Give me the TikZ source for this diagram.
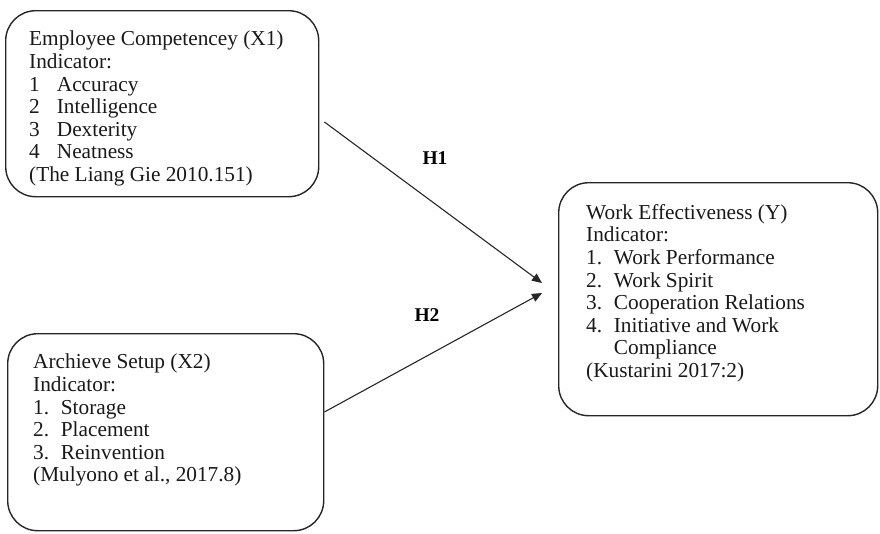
\documentclass[tikz,border=0pt]{standalone}
\usepackage{fontspec}
\setmainfont{Liberation Serif}
\usetikzlibrary{arrows.meta,calc}
\newcommand{\itm}[1]{\makebox[1.3em][l]{#1}}
\begin{document}
\begin{tikzpicture}[x=1pt,y=-1pt,
  box/.style={draw=black!85, line width=1.4pt, rounded corners=30pt, anchor=north west, inner sep=0pt},
  txt/.style={anchor=north west, align=left, inner sep=0pt, text=black!90, font=\fontsize{21.3}{22.6}\selectfont},
  hyp/.style={font=\fontsize{19.5}{22}\selectfont\bfseries, inner sep=0pt},
  arr/.style={draw=black!85, line width=1.1pt, -{Triangle[length=10pt,width=8.5pt]}}]
\useasboundingbox (0,0) rectangle (880,533);
\node[box, minimum width=313pt, minimum height=186pt] (x1) at (5,10) {};
\node[box, minimum width=316pt, minimum height=197pt] (x2) at (7,333) {};
\node[box, minimum width=319pt, minimum height=233pt] (y) at (558,182) {};
\node[txt] (t1) at (29,31) {Employee Competencey (X1)\\Indicator:\\\itm{1}Accuracy\\\itm{2}Intelligence\\\itm{3}Dexterity\\\itm{4}Neatness\\(The Liang Gie 2010.151)};
\node[txt] (t2) at (33,354) {Archieve Setup (X2)\\Indicator:\\\itm{1.}Storage\\\itm{2.}Placement\\\itm{3.}Reinvention\\(Mulyono et al., 2017.8)};
\node[txt] (t3) at (586,204) {Work Effectiveness (Y)\\Indicator:\\\itm{1.}Work Performance\\\itm{2.}Work Spirit\\\itm{3.}Cooperation Relations\\\itm{4.}Initiative and Work\\\itm{}Compliance\\(Kustarini 2017:2)};
\coordinate (s1) at ($(x1.north east)+(5,112)$);
\coordinate (s2) at ($(x2.north east)+(0,79)$);
\coordinate (e1) at (542,283);
\coordinate (e2) at (542,293);
\draw[arr] (s1) -- (e1);
\draw[arr] (s2) -- (e2);
\node[hyp] (h1) at (435,158) {H1};
\node[hyp] (h2) at (427,315) {H2};
\end{tikzpicture}
\end{document}
